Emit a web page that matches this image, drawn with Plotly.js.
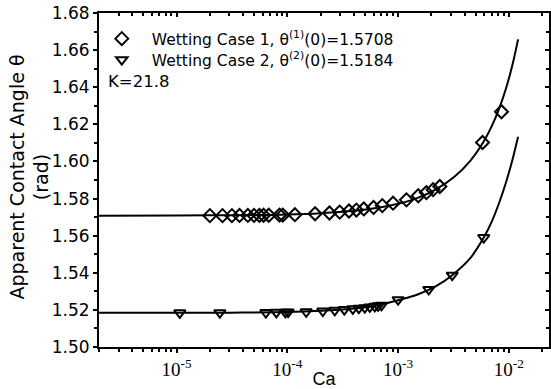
<!DOCTYPE html>
<html>
<head>
<meta charset="utf-8">
<script src="https://cdn.plot.ly/plotly-3.0.1.min.js"></script>
<style>
body{margin:0;padding:0;background:#fff}
#chart{width:551px;height:389px}
</style>
</head>
<body>
<div id="chart"></div>
<script>
// Wetting case 1 data points (diamonds)
const case1Ca = [2.0e-5, 2.6e-5, 3.16e-5, 3.7e-5, 4.4e-5, 5.0e-5, 5.6e-5, 6.1e-5, 6.8e-5, 8.5e-5, 9.1e-5,
  1.17e-4, 1.78e-4, 2.4e-4, 2.97e-4, 3.6e-4, 4.2e-4, 4.9e-4, 6.0e-4, 7.2e-4, 9.0e-4,
  1.19e-3, 1.52e-3, 1.80e-3, 2.07e-3, 2.38e-3, 5.78e-3, 8.57e-3];
const case1Theta = [1.5708, 1.5708, 1.5708, 1.5709, 1.5709, 1.5709, 1.5709, 1.5710, 1.5710, 1.5711, 1.5711,
  1.5713, 1.5718, 1.5722, 1.5727, 1.5733, 1.5738, 1.5744, 1.5752, 1.5762, 1.5775,
  1.5793, 1.5815, 1.5832, 1.5848, 1.5865, 1.6102, 1.6268];
// Wetting case 2 data points (triangles)
const case2Ca = [1.07e-5, 2.46e-5, 6.4e-5, 7.96e-5, 9.6e-5, 1.016e-4, 1.48e-4, 2.09e-4, 2.68e-4, 3.27e-4,
  3.90e-4, 4.42e-4, 5.0e-4, 5.55e-4, 6.16e-4, 6.6e-4, 7.08e-4, 1.0e-3, 1.89e-3, 3.08e-3, 5.93e-3];
const case2Theta = [1.5184, 1.5185, 1.5186, 1.5187, 1.5187, 1.5188, 1.5190, 1.5194, 1.5198, 1.5202,
  1.5206, 1.5209, 1.5212, 1.5216, 1.5219, 1.5222, 1.5225, 1.5255, 1.5310, 1.5387, 1.5590];
// Fitted curves
const fit1Ca = [2.0e-6, 1.0e-5, 3.0e-5, 1.0e-4, 2.0e-4, 4.0e-4, 7.0e-4, 1.0e-3, 1.5e-3, 2.2e-3, 3.2e-3,
  4.5e-3, 5.85e-3, 7.0e-3, 8.2e-3, 9.5e-3, 1.08e-2, 1.21e-2];
const fit1Theta = [1.5708, 1.5709, 1.5710, 1.5714, 1.5721, 1.5734, 1.5753, 1.5772, 1.5804, 1.5850, 1.5916,
  1.6005, 1.6102, 1.6190, 1.6287, 1.6401, 1.6524, 1.6658];
const fit2Ca = [2.0e-6, 1.0e-5, 3.0e-5, 1.0e-4, 2.0e-4, 4.0e-4, 7.0e-4, 1.0e-3, 1.5e-3, 2.2e-3, 3.08e-3,
  4.5e-3, 5.93e-3, 7.0e-3, 8.2e-3, 9.5e-3, 1.08e-2, 1.21e-2];
const fit2Theta = [1.5184, 1.5184, 1.5185, 1.5188, 1.5195, 1.5207, 1.5228, 1.5252, 1.5283, 1.5328, 1.5387,
  1.5480, 1.5590, 1.5676, 1.5780, 1.5895, 1.6012, 1.6133];

const legend1 = 'Wetting Case 1, θ<sup>(1)</sup>(0)=1.5708';
const legend2 = 'Wetting Case 2, θ<sup>(2)</sup>(0)=1.5184';
const xTickVals = [1e-5, 1e-4, 1e-3, 1e-2];
const xTickText = ['10<sup>-5</sup>', '10<sup>-4</sup>', '10<sup>-3</sup>', '10<sup>-2</sup>'];
const yTickVals = [1.50, 1.52, 1.54, 1.56, 1.58, 1.60, 1.62, 1.64, 1.66, 1.68];
const yTickText = ['1.50', '1.52', '1.54', '1.56', '1.58', '1.60', '1.62', '1.64', '1.66', '1.68'];
const yTitle = 'Apparent Contact Angle θ<br>(rad)';

const xr = [-5.70, -1.638];
const yr = [1.50, 1.68];

const traces = [
  {x: fit1Ca, y: fit1Theta, mode: 'lines', line: {color: '#000', width: 2, shape: 'spline', smoothing: 1}, showlegend: false, hoverinfo: 'skip'},
  {x: fit2Ca, y: fit2Theta, mode: 'lines', line: {color: '#000', width: 2, shape: 'spline', smoothing: 1}, showlegend: false, hoverinfo: 'skip'},
  {x: case1Ca, y: case1Theta, mode: 'markers', name: legend1, legend: 'legend',
   marker: {symbol: 'diamond-open', size: 10, color: '#000', line: {width: 2, color: '#000'}}},
  {x: case2Ca, y: case2Theta, mode: 'markers', name: legend2, legend: 'legend2',
   marker: {symbol: 'triangle-down-open', size: 10, color: '#000', line: {width: 2, color: '#000'}}},
  {x: [], y: [], xaxis: 'x2', yaxis: 'y2', showlegend: false, hoverinfo: 'skip'}
];

const sans = 'DejaVu Sans, Liberation Sans, Arial, sans-serif';
const lib = 'Liberation Sans, Arial, sans-serif';
const legendFont = {family: sans, size: 15.5, color: '#000'};

const layout = {
  width: 551, height: 389,
  margin: {l: 99, r: 2, t: 13, b: 42},
  paper_bgcolor: '#fff', plot_bgcolor: '#fff',
  font: {family: sans, size: 17, color: '#000'},
  showlegend: true,
  legend: {x: -0.016, y: 0.922, xanchor: 'left', yanchor: 'middle', bgcolor: 'rgba(0,0,0,0)',
    font: legendFont, itemwidth: 50},
  legend2: {x: -0.016, y: 0.859, xanchor: 'left', yanchor: 'middle', bgcolor: 'rgba(0,0,0,0)',
    font: legendFont, itemwidth: 50},
  xaxis: {
    type: 'log', range: xr, showgrid: false, zeroline: false,
    showline: true, linecolor: '#000', linewidth: 2,
    ticks: 'outside', ticklen: 4, tickwidth: 2, tickcolor: '#000',
    tickvals: xTickVals, ticktext: xTickText,
    tickfont: {family: 'Liberation Serif, Times New Roman, serif', size: 19, color: '#000'},
    minor: {ticks: 'outside', ticklen: 3, tickwidth: 2, tickcolor: '#000', dtick: 'D1', showgrid: false},
    title: {text: 'Ca', font: {family: lib, size: 18, color: '#000'}, standoff: 0}
  },
  yaxis: {
    range: yr, showgrid: false, zeroline: false,
    showline: true, linecolor: '#000', linewidth: 2,
    ticks: 'outside', ticklen: 4, tickwidth: 2, tickcolor: '#000',
    tickmode: 'array', tickvals: yTickVals, ticktext: yTickText,
    tickfont: {family: 'DejaVu Sans', size: 17, color: '#000'},
    minor: {ticks: 'outside', ticklen: 3, tickwidth: 2, tickcolor: '#000', tickmode: 'linear', tick0: 1.5, dtick: 0.01, showgrid: false}
  },
  xaxis2: {
    type: 'log', range: xr, overlaying: 'x', side: 'top', anchor: 'y2',
    showgrid: false, zeroline: false, showline: true, linecolor: '#000', linewidth: 2,
    ticks: 'inside', ticklen: 4, tickwidth: 2, tickcolor: '#000', tickvals: xTickVals, showticklabels: false,
    minor: {ticks: 'inside', ticklen: 3, tickwidth: 2, tickcolor: '#000', dtick: 'D1', showgrid: false}
  },
  yaxis2: {
    range: yr, overlaying: 'y', side: 'right', anchor: 'x2',
    showgrid: false, zeroline: false, showline: true, linecolor: '#000', linewidth: 2,
    ticks: 'inside', ticklen: 4, tickwidth: 2, tickcolor: '#000', tickmode: 'array', tickvals: yTickVals, showticklabels: false,
    minor: {ticks: 'inside', ticklen: 3, tickwidth: 2, tickcolor: '#000', tickmode: 'linear', tick0: 1.5, dtick: 0.01, showgrid: false}
  },
  annotations: [
    {text: 'K=21.8', xref: 'paper', yref: 'paper', x: 0.016, y: 0.795, xanchor: 'left', yanchor: 'middle',
     showarrow: false, font: {family: sans, size: 16.5, color: '#000'}},
    {text: yTitle, xref: 'paper', yref: 'paper', x: -0.1544, y: 0.509, xanchor: 'center', yanchor: 'middle',
     textangle: -90, showarrow: false, font: {family: sans, size: 19, color: '#000'}}
  ]
};

Plotly.newPlot('chart', traces, layout, {staticPlot: true, displayModeBar: false});
</script>
</body>
</html>
